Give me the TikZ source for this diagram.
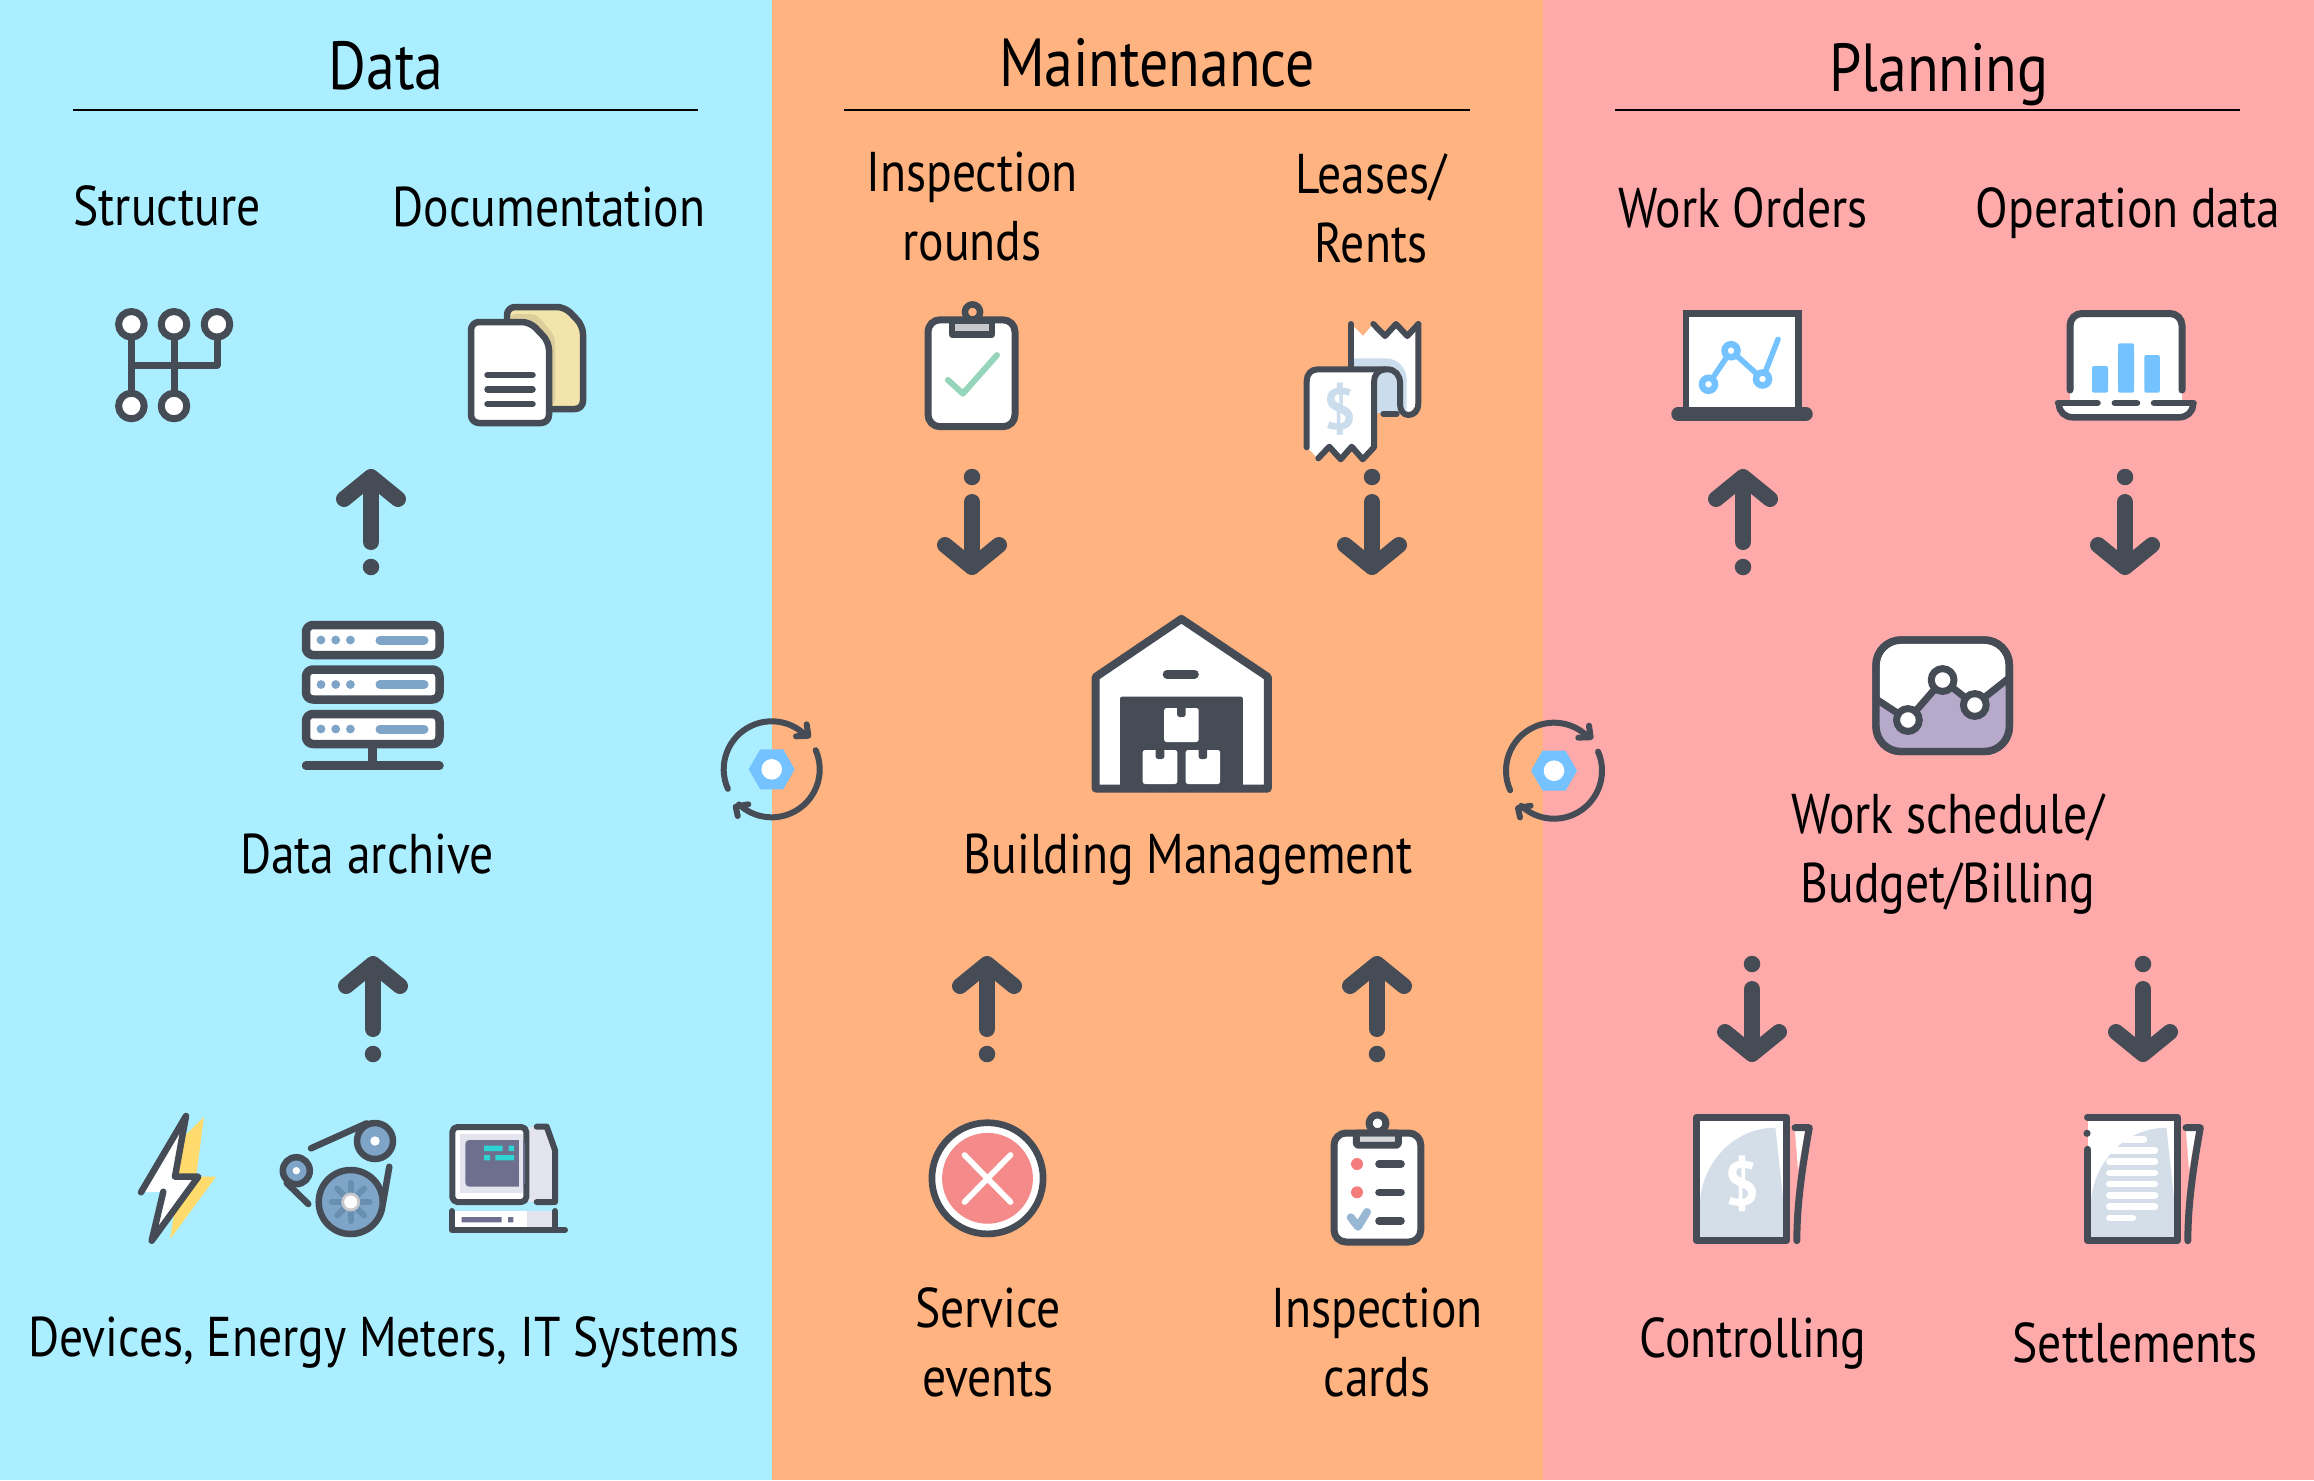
\documentclass[tikz,border=0pt]{standalone}
\usepackage{fontspec}
\setmainfont[FakeStretch=0.85]{PT Sans}
\newfontfamily\iconfont{PT Sans}
\usetikzlibrary{arrows.meta,calc}
\definecolor{ink}{RGB}{69,76,86}
\definecolor{skypanel}{RGB}{170,238,255}
\definecolor{orangepanel}{RGB}{255,179,128}
\definecolor{rosepanel}{RGB}{255,170,170}
\definecolor{steel}{RGB}{126,165,200}
\definecolor{steeldark}{RGB}{104,142,176}
\definecolor{brightblue}{RGB}{116,194,255}
\definecolor{paleblue}{RGB}{203,220,236}
\definecolor{slateblue}{RGB}{212,222,232}
\definecolor{paper}{RGB}{242,228,170}
\definecolor{papershade}{RGB}{222,206,155}
\definecolor{bolt}{RGB}{255,219,110}
\definecolor{screen}{RGB}{110,110,142}
\definecolor{casing}{RGB}{228,228,238}
\definecolor{teal}{RGB}{46,211,211}
\definecolor{mint}{RGB}{149,213,187}
\definecolor{alarm}{RGB}{244,138,138}
\definecolor{plum}{RGB}{183,169,201}
\definecolor{clipgrey}{RGB}{200,200,204}
\tikzset{
  paneltitle/.style={font=\fontsize{68}{70}\selectfont,inner sep=0pt},
  itemlabel/.style={font=\fontsize{56}{69}\selectfont,align=center,inner sep=0pt},
  icon/.style={draw=ink,line width=6.5pt,line join=round,line cap=round},
  flowarrow/.style={draw=ink,line width=16pt,line cap=round,
    -{Straight Barb[round,length=22pt,width=54pt,line width=16pt]}},
  arrowdot/.style={circle,fill=ink,inner sep=0pt,minimum size=16.5pt},
}
\begin{document}
\begin{tikzpicture}[x=1pt,y=-1pt]
  \useasboundingbox (0,0) rectangle (2314,1480);
  \fill[skypanel] (0,0) rectangle (772,1480);
  \fill[orangepanel] (772,0) rectangle (1543,1480);
  \fill[rosepanel] (1543,0) rectangle (2314,1480);

  \node[paneltitle] (dataTitle) at (386,66) {Data};
  \node[paneltitle] (maintTitle) at (1157,63) {Maintenance};
  \node[paneltitle] (planTitle) at (1939,75) {Planning};
  \draw[line width=2.5pt] (73,110) -- (698,110);
  \draw[line width=2.5pt] (844,110) -- (1470,110);
  \draw[line width=2.5pt] (1615,110) -- (2240,110);

  \node[itemlabel] (structLabel) at (167,206) {Structure};
  \node[itemlabel] (docLabel) at (549,207) {Documentation};
  \node[itemlabel] (archiveLabel) at (367,854) {Data archive};
  \node[itemlabel] (deviceLabel) at (384,1342) {Devices, Energy Meters, IT Systems};
  \node[itemlabel] (roundsLabel) at (972,207) {Inspection\\rounds};
  \node[itemlabel] (leaseLabel) at (1371,208) {Leases/\\Rents};
  \node[itemlabel] (buildingLabel) at (1188,860) {Building Management};
  \node[itemlabel] (serviceLabel) at (988,1342) {Service\\events};
  \node[itemlabel] (cardLabel) at (1377,1342) {Inspection\\cards};
  \node[itemlabel] (orderLabel) at (1743,208) {Work Orders};
  \node[itemlabel] (operationLabel) at (2128,213) {Operation data};
  \node[itemlabel] (scheduleLabel) at (1948,854) {Work schedule/\\Budget/Billing};
  \node[itemlabel] (controlLabel) at (1753,1343) {Controlling};
  \node[itemlabel] (settleLabel) at (2135,1343) {Settlements};

  \foreach \name/\x/\y in {dataUp/371/469,deviceUp/373/956,serviceUp/987/956,
    cardUp/1377/956,orderUp/1743/469} {
    \node[arrowdot] (\name Dot) at (\x,\y+98) {};
    \coordinate (\name Tail) at (\x,\y+73);
    \coordinate (\name Tip) at (\x,\y);
    \draw[flowarrow] (\name Tail) -- (\name Tip);
  }
  \foreach \name/\x/\y in {roundsDown/972/469,leaseDown/1372/469,operationDown/2125/469,
    controlDown/1752/956,settleDown/2143/956} {
    \node[arrowdot] (\name Dot) at (\x,\y+8) {};
    \coordinate (\name Tail) at (\x,\y+33);
    \coordinate (\name Tip) at (\x,\y+106);
    \draw[flowarrow] (\name Tail) -- (\name Tip);
  }

  \foreach \cx/\cy in {771.7/769.3,1554/770.7} {
    \begin{scope}[shift={(\cx,\cy)}]
      \fill[brightblue] (-23,0) -- (-11.5,-20) -- (11.5,-20) -- (23,0) -- (11.5,20) -- (-11.5,20) -- cycle;
      \fill[white] (0,0) circle (10.3);
      \draw[ink,line width=6pt,line cap=round] (204:48pt) arc[start angle=204,end angle=44,radius=48pt];
      \draw[ink,line width=6pt,line cap=round] (23.5:48pt) arc[start angle=23.5,end angle=-133,radius=48pt];
      \draw[ink,line width=6pt,line cap=round,line join=round] (35,-45) -- (36.6,-33.6) -- (24.3,-33);
      \draw[ink,line width=6pt,line cap=round,line join=round] (-23.4,35) -- (-36,37.4) -- (-34,46.7);
    \end{scope}
  }

  \draw[icon,line width=7pt] (131.4,324.3) -- (131.4,406) (174,324.3) -- (174,406)
    (131.4,365) -- (217,365) -- (217,324.3);
  \foreach \x/\y in {131.4/324.3,174/324.3,217/324.3,131.4/406,174/406} {
    \draw[icon,line width=7pt,fill=white] (\x,\y) circle (12.8);
  }

  \filldraw[icon,fill=paper,rounded corners=8pt] (507,307) -- (565,307) -- (583,326) -- (583,409) -- (507,409) -- cycle;
  \fill[papershade,rounded corners=6pt] (510,314) -- (536,314) -- (555,336) -- (555,406) -- (510,406) -- cycle;
  \filldraw[icon,fill=white,rounded corners=8pt] (471,322) -- (530,322) -- (549,342) -- (549,423) -- (471,423) -- cycle;
  \foreach \y in {375,389.3,404} {
    \draw[icon] (487.5,\y) -- (532.5,\y);
  }

  \foreach \y in {625,669.5,714} {
    \filldraw[icon,line width=8.5pt,fill=white,rounded corners=7pt] (306,\y) rectangle (439.5,\y+30);
    \fill[steel] (321,\y+15) circle (4.4) (335.7,\y+15) circle (4.4) (350.4,\y+15) circle (4.4);
    \draw[steel,line width=9pt,line cap=round] (380,\y+15) -- (424,\y+15);
  }
  \draw[icon,line width=8.5pt] (372.5,748) -- (372.5,765.7) (306,765.7) -- (439.5,765.7);

  \fill[bolt] (204,1117) -- (196,1176.7) -- (216,1176.7) -- (170,1239.3) -- (178,1190) -- (170,1150) -- cycle;
  \fill[white] (186,1116) -- (141,1192.3) -- (163.3,1191.7) -- (151.7,1240.7) -- (198.3,1176.7) -- (175,1176.7) -- cycle;
  \draw[icon] (141,1192.3) -- (186,1116) -- (175,1176.7) -- (198.3,1176.7) -- (151.7,1240.7) -- (163.3,1191.7);

  \draw[icon] (311,1148.3) -- (366.7,1123.3) (286.7,1183) -- (308.3,1204) (389.3,1166.7) -- (383,1203);
  \filldraw[icon,fill=steel] (350.7,1202) circle (32);
  \foreach \a in {0,45,...,315} {
    \draw[steeldark,line width=6pt,line cap=round] ($(350.7,1202)+(\a:9pt)$) -- ($(350.7,1202)+(\a:19pt)$);
  }
  \fill[clipgrey] (350.7,1202) circle (9.5);
  \fill[white] (350.7,1202) circle (6.5);
  \filldraw[icon,fill=steel] (375,1141) circle (18);
  \fill[white] (375,1141) circle (4.7);
  \filldraw[icon,fill=steel] (296.3,1170.7) circle (13.5);
  \fill[white] (296.3,1170.7) circle (3.7);

  \fill[casing] (529,1126.7) -- (546.7,1126.7) -- (555,1150) -- (555,1202) -- (529,1202) -- cycle;
  \draw[icon,line width=6pt] (536.7,1126.7) -- (546.7,1126.7) -- (555,1150) -- (555,1202) -- (536.7,1202);
  \filldraw[icon,line width=6pt,fill=white,rounded corners=5pt] (452.3,1127) rectangle (526.3,1202);
  \fill[casing] (460,1134.3) rectangle (519.3,1193.3);
  \fill[screen,rounded corners=4pt] (465.3,1140) -- (525,1140) -- (525,1186.7) -- (465.3,1186.7) -- cycle;
  \fill[casing] (519.3,1134.3) rectangle (523,1193.3);
  \fill[teal] (484,1145.7) rectangle (502.7,1151) (508.7,1145.7) rectangle (514,1151)
    (484,1155) rectangle (490,1160.3) (495.3,1155) rectangle (514,1160.3);
  \fill[white] (451.7,1211) rectangle (526.7,1230);
  \fill[casing] (526.7,1211) rectangle (555,1230);
  \draw[icon,line width=6pt] (451.7,1211) -- (451.7,1230) -- (565,1230) (555,1211) -- (555,1230);
  \fill[screen] (461.7,1217) rectangle (501.7,1222.3) (508,1217) rectangle (513.3,1222.3);

  \filldraw[icon,fill=orangepanel] (972.5,312) circle (7.6);
  \filldraw[icon,line width=7pt,fill=white,rounded corners=12pt] (928,319.8) rectangle (1015,426.7);
  \filldraw[icon,fill=clipgrey] (952,320.5) -- (992,320.5) -- (992,334.5) -- (952,334.5) -- cycle;
  \draw[mint,line width=6pt,line cap=round,line join=round] (947.9,380) -- (962.9,393.6) -- (997,355.1);

  \fill[white] (1351,324) -- (1363,336) -- (1373,324) -- (1385,336) -- (1396,324) -- (1407.3,336) -- (1418.3,324) -- (1418.3,403) -- (1408,415) -- (1385,414) -- (1351,404) -- cycle;
  \fill[paleblue] (1351,358.3) -- (1385,358.3) .. controls (1398,358.3) and (1406.7,368) .. (1406.7,380) -- (1406.7,409) -- (1400,413) -- (1377,413) -- (1351,404) -- cycle;
  \draw[icon,line width=6pt] (1351,324) -- (1351,368);
  \draw[icon,line width=6pt] (1373.3,324) -- (1385,336) -- (1396,324) -- (1407.3,336) -- (1418.3,324);
  \fill[white] (1307,375) -- (1307,447) -- (1318,459) -- (1329.3,446.7) -- (1340.7,459.3) -- (1351.7,446.7) -- (1362.7,459.3) -- (1374,447.3) -- (1374,369.3) -- (1313,369.3) -- cycle;
  \node[font=\iconfont\bfseries\fontsize{58}{58}\selectfont,text=paleblue,inner sep=0pt] (billDollar) at (1340,409.3) {\$};
  \draw[icon,line width=6pt] (1306.7,447.3) -- (1306.7,381) .. controls (1306.7,374) and (1311,369.3) .. (1318,369.3)
    -- (1387.3,369.3) .. controls (1395,369.3) and (1400,375) .. (1400,383) -- (1400,404)
    .. controls (1400,410) and (1403,415) .. (1408.3,415)
    .. controls (1414,415) and (1418.3,411) .. (1418.3,403) -- (1418.3,324);
  \draw[icon,line width=6pt] (1383.3,414) -- (1396.7,414);
  \draw[icon,line width=6pt] (1318.3,458.3) -- (1329.3,446.7) -- (1340.7,459.3) -- (1351.7,446.7) -- (1362.7,459.3) -- (1374,447.3)
    -- (1374,382) .. controls (1374,375) and (1378,370) .. (1385,369.3);

  \filldraw[icon,line width=8pt,fill=white] (1181.4,618.9) -- (1267.8,677) -- (1267.8,788.5) -- (1095.6,788.5) -- (1095.6,677) -- cycle;
  \draw[icon,line width=8.7pt] (1167,674.3) -- (1194.5,674.3);
  \fill[ink,rounded corners=2pt] (1120,696.7) rectangle (1242.9,788.5);
  \foreach \x/\y in {1181.4/708,1160/750,1202.9/750} {
    \fill[white,rounded corners=2.5pt] (\x-17.3,\y) rectangle (\x+17.3,\y+34);
    \fill[ink,rounded corners=2.5pt] (\x-4.3,\y-2) rectangle (\x+4.3,\y+9);
  }

  \filldraw[icon,line width=7pt,fill=white] (1377.5,1123.3) circle (8.4);
  \filldraw[icon,line width=7pt,fill=white,rounded corners=12pt] (1334,1133) rectangle (1420.8,1242);
  \filldraw[icon,line width=7pt,fill=white,rounded corners=2pt] (1356.4,1133) rectangle (1398.3,1145.2);
  \fill[clipgrey!70!white] (1360,1137.3) rectangle (1394.6,1141.3);
  \fill[alarm!90!red] (1357,1164) circle (6) (1357,1192.3) circle (6);
  \foreach \y in {1164,1192.3,1221} {
    \draw[ink,line width=7.6pt,line cap=round] (1379,\y) -- (1401,\y);
  }
  \draw[steel!80!white,line width=8pt,line cap=round,line join=round] (1350.7,1217.3) -- (1358,1226.7) -- (1367,1212);

  \fill[white] (987.5,1178.3) circle (55);
  \draw[ink,line width=6.7pt] (987.5,1178.3) circle (55.6);
  \fill[alarm] (987.5,1178.3) circle (45.4);
  \draw[white,line width=5.7pt,line cap=round] (964.5,1155) -- (1010.5,1202) (964.5,1202) -- (1010.5,1155);

  \filldraw[icon,fill=white,miter limit=2,line join=miter] (1686,407) -- (1686,313.5) -- (1798.5,313.5) -- (1798.5,407);
  \draw[ink,line width=13.5pt,line cap=round] (1678,414) -- (1806,414);
  \draw[brightblue,line width=5.5pt,line cap=round,line join=round] (1708.5,384.3) -- (1731,350.7) -- (1762.5,379) -- (1778,339.3);
  \foreach \x/\y in {1708.5/384.3,1731/350.7,1762.5/379} {
    \filldraw[draw=brightblue,line width=6.5pt,fill=white] (\x,\y) circle (6.5);
  }

  \fill[white,rounded corners=12pt] (2070,313.5) -- (2182,313.5) -- (2182,420) -- (2070,420) -- cycle;
  \fill[white] (2070,370) rectangle (2182,403);
  \draw[icon,line width=7pt,rounded corners=12pt] (2070,390) -- (2070,313.5) -- (2182,313.5) -- (2182,390);
  \fill[brightblue,rounded corners=2pt] (2092,366) rectangle (2108,392.7) (2118,343.3) rectangle (2134,392.7) (2144.3,355) rectangle (2159.8,392.7);
  \filldraw[icon,fill=white,line cap=butt] (2059,403) -- (2059,404) .. controls (2059,412) and (2065,417.3) .. (2073,417.3)
    -- (2179,417.3) .. controls (2187,417.3) and (2193,412) .. (2193,404) -- (2193,403);
  \draw[icon] (2058,403) -- (2097.5,403) (2114.8,403) -- (2137,403) (2154,403) -- (2193.5,403);

  \filldraw[icon,line width=7.4pt,fill=white,rounded corners=25pt] (1876,640) rectangle (2009.3,751.5);
  \begin{scope}
    \clip[rounded corners=25pt] (1876,640) rectangle (2009.3,751.5);
    \fill[plum] (1873.8,697.3) -- (1907.9,720) -- (1942.6,680) -- (1974.8,705) -- (2011.8,676.7) -- (2011.8,755) -- (1873.8,755) -- cycle;
  \end{scope}
  \draw[icon,line width=7.4pt,rounded corners=25pt] (1876,640) rectangle (2009.3,751.5);
  \draw[icon,line width=7pt] (1876,699) -- (1907.9,720) -- (1942.6,680) -- (1974.8,705) -- (2009,678);
  \foreach \x/\y in {1907.9/720,1942.6/680,1974.8/705} {
    \filldraw[icon,line width=7pt,fill=white] (\x,\y) circle (11.4);
  }

  \foreach \dx in {0,391} {
    \begin{scope}[xshift=\dx pt]
      \fill[white] (1696.7,1117) rectangle (1786.5,1240.5);
      \fill[slateblue] (1700,1237) -- (1700,1200) .. controls (1704,1160) and (1735,1128) .. (1775.4,1127.7) -- (1783.6,1203.3) -- (1783.6,1237) -- cycle;
      \fill[white] (1795,1131) -- (1805,1131) -- (1798,1170) -- cycle;
      \draw[icon,line width=7pt] (1795,1127.7) -- (1809.3,1127.7) .. controls (1800,1180) and (1797,1210) .. (1796.8,1240.7);
    \end{scope}
  }
  \draw[icon,line width=7pt] (1696.7,1117) rectangle (1786.5,1240.5);
  \node[font=\iconfont\bfseries\fontsize{62}{62}\selectfont,text=white,inner sep=0pt] (billSign) at (1742.5,1184) {\$};
  \draw[icon,line width=7pt] (2087.5,1117) -- (2177.5,1117) -- (2177.5,1240.5) -- (2087.5,1240.5) -- (2087.5,1149.3);
  \fill[ink] (2087,1133.3) circle (3.6);
  \foreach \y/\a/\b in {1139.3/2122/2146.8,1150.3/2106.4/2157.9,1161.7/2106.4/2157.9,1173/2106.4/2157.9,1184/2106.4/2157.9,1195.3/2106.4/2157.9,1206.7/2106.4/2157.9,1218/2106.4/2135.7} {
    \draw[white,line width=6.7pt,line cap=round] (\a+3,\y) -- (\b-3,\y);
  }
\end{tikzpicture}
\end{document}
